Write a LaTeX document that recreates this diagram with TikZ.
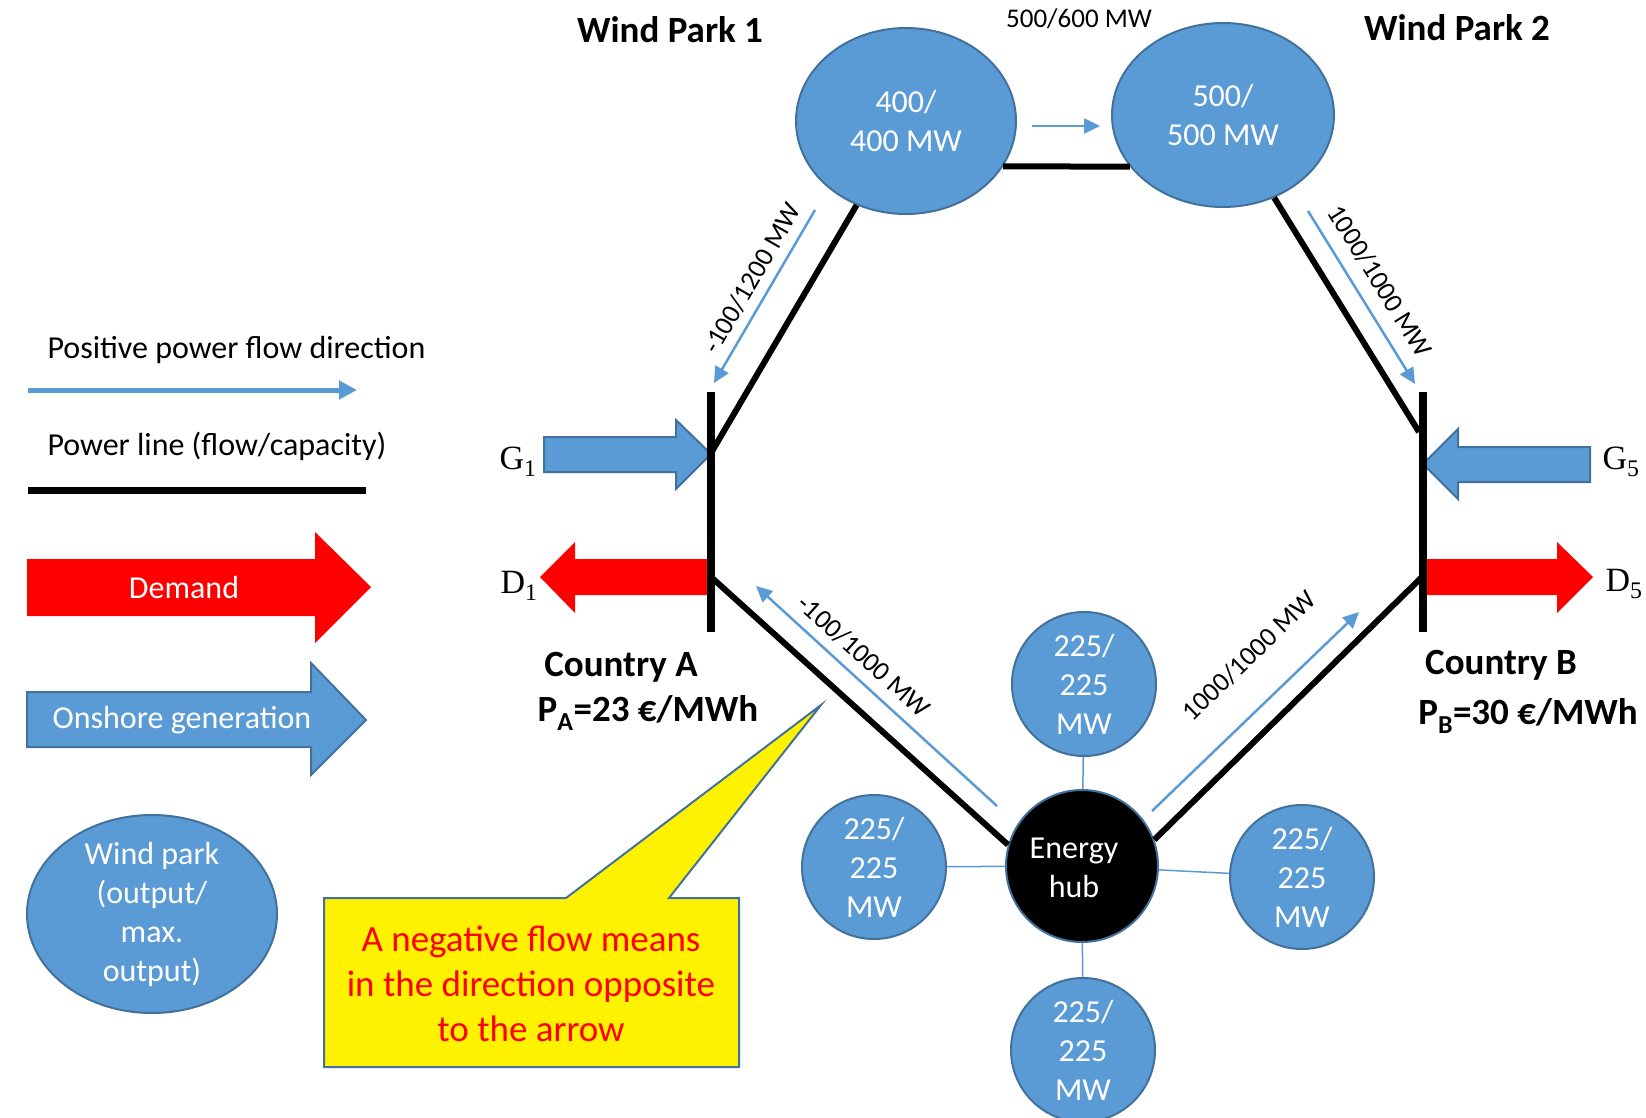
\documentclass[tikz,border=0pt]{standalone}
\usepackage{fontspec}
\setmainfont{Carlito}
\newfontfamily\timesfont{Liberation Serif}
\usetikzlibrary{arrows.meta, shapes.geometric}

\definecolor{parkblue}{HTML}{5B9BD5}
\definecolor{parkedge}{HTML}{41719C}

\tikzset{
    park/.style={ellipse, draw=parkedge, line width=2pt, fill=parkblue, text=white,
        align=center, inner sep=0pt, font=\fontsize{32}{39}\selectfont},
    park text/.style={text=white, align=center, font=\fontsize{32}{39}\selectfont},
    small park/.style={park, circle, minimum size=144pt},
    hub node/.style={park, circle, fill=black, minimum size=152pt},
    power line/.style={line width=6pt},
    bus/.style={line width=8.5pt},
    flow/.style={draw=parkblue, line width=2.5pt, ->},
    flow label/.style={font=\fontsize{27}{32}\selectfont},
    heading/.style={font=\bfseries\fontsize{37}{44}\selectfont},
    legend text/.style={font=\fontsize{32}{39}\selectfont},
    gen/.style={fill=parkblue, draw=parkedge, line width=2pt},
    dem/.style={fill=red},
    bus label/.style={font=\timesfont\fontsize{34}{40}\selectfont},
    note text/.style={text=red, align=center, font=\fontsize{37}{45}\selectfont}
}

\begin{document}
\begin{tikzpicture}[x=1pt, y=-1pt, >={Triangle[length=16pt, width=15pt]}]

\useasboundingbox (0,0) rectangle (1646,1117);

% generation / demand arrows at the two countries
\draw [gen] (544,437) -- (676,437) -- (676,420) -- (711,454) -- (676,489) -- (676,472) -- (544,472) -- cycle;
\fill [dem] (708,559) -- (575,559) -- (575,542) -- (540,577) -- (575,613) -- (575,595) -- (708,595) -- cycle;
\draw [gen] (1590,447) -- (1458,447) -- (1458,429) -- (1423,464) -- (1458,499) -- (1458,482) -- (1590,482) -- cycle;
\fill [dem] (1426,559) -- (1557,559) -- (1557,542) -- (1593,577) -- (1557,613) -- (1557,595) -- (1426,595) -- cycle;

\node [bus label] (g1) at (518,462) {G\textsubscript{1}};
\node [bus label] (d1) at (519,586) {D\textsubscript{1}};
\node [bus label] (g5) at (1621,462) {G\textsubscript{5}};
\node [bus label] (d5) at (1624,584) {D\textsubscript{5}};

% bus bars
\foreach \b/\x in {A/711, B/1423} {
    \coordinate (bus\b-top) at (\x,392);
    \coordinate (bus\b-bot) at (\x,632);
    \draw [bus] (bus\b-top) -- (bus\b-bot);
}
\coordinate (busA-up) at (711,453);
\coordinate (busA-down) at (711,577);
\coordinate (busB-up) at (1419,432);
\coordinate (busB-down) at (1423,576);

% wind parks and energy hub
\node [park, minimum width=220pt, minimum height=186pt] (wp1) at (906,121) {400/\\400 MW};
\node [park, minimum width=222pt, minimum height=184pt] (wp2) at (1223,115) {500/\\500 MW};
\node [hub node] (hub) at (1082,866) {};
\node [park text] (hub-text) at (1074,868) {Energy\\hub};

\foreach \n/\x/\y in {top/1084/684, left/874/867, right/1302/877, bottom/1083/1050}
    \node [small park] (hub-\n) at (\x,\y) {225/\\225\\MW};

\foreach \n in {top, left, right, bottom}
    \draw [parkblue, line width=1.5pt] (hub) -- (hub-\n);

% power lines
\draw [power line] (wp1.-25) -- (wp2.-151);
\draw [power line] (wp1) -- (busA-up);
\draw [power line] (wp2) -- (busB-up);
\draw [power line] (busA-down) -- (hub.164);
\draw [power line] (busB-down) -- (hub.20);

% positive flow directions
\foreach \n/\sx/\sy/\ex/\ey in {a/815/210/714/383, b/1308/211/1415/384,
        c/997/806/756/586, d/1152/811/1359/612, e/1032/126/1100/126} {
    \coordinate (flow-\n-s) at (\sx,\sy);
    \coordinate (flow-\n-e) at (\ex,\ey);
    \draw [flow] (flow-\n-s) -- (flow-\n-e);
}

\node [flow label, rotate=60] (lab-a) at (752,278) {-100/1200 MW};
\node [flow label, rotate=-58] (lab-b) at (1380,281) {1000/1000 MW};
\node [flow label, rotate=-42] (lab-c) at (864,656) {-100/1000 MW};
\node [flow label, rotate=44] (lab-d) at (1249,656) {1000/1000 MW};
\node [flow label] (lab-e) at (1079,19) {500/600 MW};

\node [heading] (park-1) at (670,30) {Wind Park 1};
\node [heading] (park-2) at (1457,28) {Wind Park 2};
\node [heading] (country-a) at (621,667) {Country A};
\node [heading] (price-a) at (648,713) {P\textsubscript{A}=23 €/MWh};
\node [heading] (country-b) at (1501,665) {Country B};
\node [heading] (price-b) at (1528,716) {P\textsubscript{B}=30 €/MWh};

% legend
\node [legend text, anchor=west] (leg-flow) at (44,350) {Positive power flow direction};
\coordinate (leg-flow-s) at (28,390);
\coordinate (leg-flow-e) at (357,390);
\draw [parkblue, line width=5pt, -{Triangle[length=18pt, width=18pt]}] (leg-flow-s) -- (leg-flow-e);

\node [legend text, anchor=west] (leg-line) at (44,446) {Power line (flow/capacity)};
\coordinate (leg-line-s) at (28,490);
\coordinate (leg-line-e) at (366,490);
\draw [line width=7pt] (leg-line-s) -- (leg-line-e);

\fill [dem] (27,559) -- (315,559) -- (315,532) -- (371,587) -- (315,643) -- (315,616) -- (27,616) -- cycle;
\node [legend text, text=white] (leg-dem) at (184,587) {Demand};

\draw [gen] (27,692) -- (311,692) -- (311,663) -- (366,720) -- (311,775) -- (311,747) -- (27,747) -- cycle;
\node [legend text, text=white] (leg-gen) at (182,720) {Onshore generation};

\node [park, minimum width=250pt, minimum height=198pt] (leg-park) at (152,914) {};
\node [park text] (leg-park-text) at (leg-park.center) {Wind park\\(output/\\max.\\output)};

% note on negative flows
\draw [fill=yellow, draw=parkedge, line width=2pt] (324,898) -- (566,898) -- (821,705) -- (669,898)
    -- (739,898) -- (739,1067) -- (324,1067) -- cycle;
\node [note text] (note) at (531,984) {A negative flow means\\in the direction opposite\\to the arrow};

\end{tikzpicture}
\end{document}
